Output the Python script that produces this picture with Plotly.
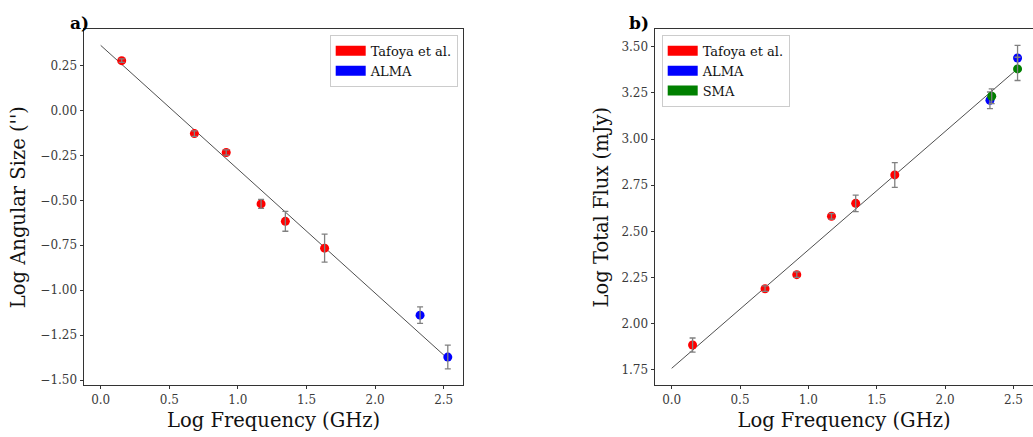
import plotly.graph_objects as go

# ---------------- data ----------------
# Panel a: Log angular size vs log frequency
taf_x = [0.153, 0.683, 0.915, 1.169, 1.346, 1.632]
taf_size = [0.277, -0.129, -0.234, -0.520, -0.617, -0.766]
taf_size_err = [0.010, 0.015, 0.015, 0.025, 0.055, 0.078]
alma_x = [2.328, 2.530]
alma_size = [-1.139, -1.372]
alma_size_err = [0.046, 0.066]
fit_a_intercept = 0.362
fit_a_slope = -0.689

# Panel b: Log total flux vs log frequency
taf_flux = [1.885, 2.190, 2.266, 2.582, 2.652, 2.806]
taf_flux_err = [0.038, 0.015, 0.015, 0.015, 0.045, 0.067]
alma_flux = [3.210, 3.439]
alma_flux_err = [0.045, 0.068]
sma_x = [2.341, 2.530]
sma_flux = [3.232, 3.380]
sma_flux_err = [0.040, 0.063]
fit_b_intercept = 1.759
fit_b_slope = 0.641

fit_x = [0.0, max(alma_x)]

W, H = 1033, 437
FONT = "DejaVu Serif"
RED, BLUE, GREEN = "#ff0000", "#0000ff", "#008000"
ERRC = "#808080"
TITLE_SIZE = 19.5

fig = go.Figure()


def add_points(x, y, err, color, xa, ya):
    fig.add_trace(go.Scatter(x=x, y=y, mode="markers", xaxis=xa, yaxis=ya,
                             marker=dict(color=color, size=9, line=dict(width=0)),
                             showlegend=False, hoverinfo="x+y"))
    fig.add_trace(go.Scatter(x=x, y=y, mode="markers", xaxis=xa, yaxis=ya,
                             marker=dict(color="rgba(0,0,0,0)", size=9),
                             error_y=dict(type="data", array=err, color=ERRC,
                                          thickness=1.3, width=3),
                             showlegend=False, hoverinfo="skip"))


# fit lines
fig.add_trace(go.Scatter(x=fit_x, y=[fit_a_intercept + fit_a_slope * v for v in fit_x],
                         mode="lines", line=dict(color="#222222", width=0.8),
                         xaxis="x", yaxis="y", showlegend=False, hoverinfo="skip"))
fig.add_trace(go.Scatter(x=fit_x, y=[fit_b_intercept + fit_b_slope * v for v in fit_x],
                         mode="lines", line=dict(color="#222222", width=0.8),
                         xaxis="x2", yaxis="y2", showlegend=False, hoverinfo="skip"))

# panel a
add_points(taf_x, taf_size, taf_size_err, RED, "x", "y")
add_points(alma_x, alma_size, alma_size_err, BLUE, "x", "y")
# panel b
add_points(taf_x, taf_flux, taf_flux_err, RED, "x2", "y2")
add_points(alma_x, alma_flux, alma_flux_err, BLUE, "x2", "y2")
add_points(sma_x, sma_flux, sma_flux_err, GREEN, "x2", "y2")

# legend patches
for name, col in [("Tafoya et al.", RED), ("ALMA", BLUE)]:
    fig.add_trace(go.Scatter(x=[None], y=[None], mode="lines", name=name,
                             line=dict(color=col, width=10), legend="legend",
                             xaxis="x", yaxis="y"))
for name, col in [("Tafoya et al.", RED), ("ALMA", BLUE), ("SMA", GREEN)]:
    fig.add_trace(go.Scatter(x=[None], y=[None], mode="lines", name=name,
                             line=dict(color=col, width=10), legend="legend2",
                             xaxis="x2", yaxis="y2"))

top_px, bot_px = 29.5, 386.7
ydom = [1 - bot_px / H, 1 - top_px / H]

axis_common = dict(showgrid=False, zeroline=False, ticks="outside", ticklen=3.5,
                   tickwidth=0.8, tickcolor="#333333", linecolor="#333333",
                   linewidth=0.9, showline=True,
                   tickfont=dict(family=FONT, size=12, color="#3a3a3a"))
title_font = dict(family=FONT, size=TITLE_SIZE, color="#111111")

fig.update_layout(
    width=W, height=H,
    margin=dict(l=0, r=0, t=0, b=0),
    paper_bgcolor="white", plot_bgcolor="white",
    xaxis=dict(domain=[84 / W, 463.3 / W], range=[-0.1217, 2.643], dtick=0.5,
               tick0=0, tickformat=".1f", mirror=True, anchor="y",
               title=dict(text="Log Frequency (GHz)", standoff=7, font=title_font),
               **axis_common),
    yaxis=dict(domain=ydom, range=[-1.527, 0.451], dtick=0.25, tick0=0,
               tickformat=".2f", mirror=True, anchor="x",
               title=dict(text="Log Angular Size ('')", standoff=9, font=title_font),
               **axis_common),
    xaxis2=dict(domain=[655 / W, 1.0], range=[-0.122, 2.643], dtick=0.5,
                tick0=0, tickformat=".1f", mirror=True, anchor="y2",
                title=dict(text="Log Frequency (GHz)", standoff=7, font=title_font),
                **axis_common),
    yaxis2=dict(domain=ydom, range=[1.669, 3.594], dtick=0.25, tick0=0,
                tickformat=".2f", mirror=False, anchor="x2",
                title=dict(text="Log Total Flux (mJy)", standoff=7, font=title_font),
                **axis_common),
    legend=dict(x=457.7 / W, xanchor="right", y=1 - 35 / H, yanchor="top",
                bgcolor="rgba(255,255,255,0.9)", bordercolor="#cccccc",
                borderwidth=1, font=dict(family=FONT, size=13, color="#111111"),
                itemwidth=30, tracegroupgap=0),
    legend2=dict(x=661.7 / W, xanchor="left", y=1 - 35 / H, yanchor="top",
                 bgcolor="rgba(255,255,255,0.9)", bordercolor="#cccccc",
                 borderwidth=1, font=dict(family=FONT, size=13, color="#111111"),
                 itemwidth=30, tracegroupgap=0),
    annotations=[
        dict(text="<b>a)</b>", x=68 / W, y=1 - 11 / H, xref="paper", yref="paper",
             showarrow=False, font=dict(family=FONT, size=17, color="#000000")),
        dict(text="<b>b)</b>", x=639 / W, y=1 - 11 / H, xref="paper", yref="paper",
             showarrow=False, font=dict(family=FONT, size=17, color="#000000")),
    ],
)

fig.write_html(
    "out.html",
    config={"displayModeBar": False},
    post_script="document.body.style.margin='0';document.body.style.overflow='hidden';",
)
